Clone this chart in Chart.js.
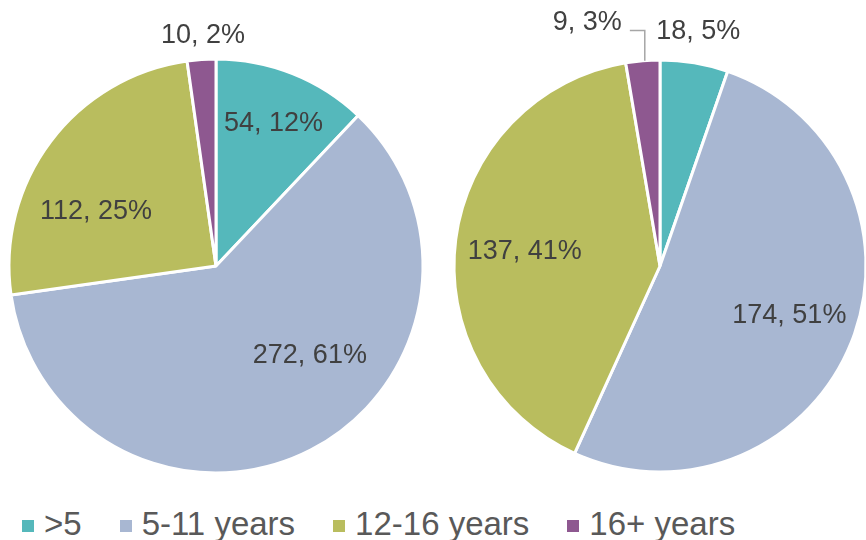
<!DOCTYPE html>
<html>
<head>
<meta charset="utf-8">
<script src="https://cdn.jsdelivr.net/npm/chart.js@4.4.1/dist/chart.umd.min.js"></script>
<style>
  html, body { margin: 0; padding: 0; background: #fff; }
  #wrap { position: relative; width: 866px; height: 540px; overflow: hidden; }
  #left { position: absolute; left: 0; top: 0; }
  #right { position: absolute; left: 440px; top: 0; }
  #legend { position: absolute; left: 22px; top: 508px; display: flex; gap: 38px;
    font: 33px "Liberation Sans", Arial, sans-serif; color: #595959; line-height: 32px; }
  #legend .it { display: flex; align-items: center; white-space: nowrap; }
  #legend .sw { width: 12px; height: 12px; margin-right: 10px; position: relative; top: 2px; }
</style>
</head>
<body>
<div id="wrap">
  <canvas id="left" width="432" height="490"></canvas>
  <canvas id="right" width="440" height="490"></canvas>
  <div id="legend"></div>
</div>
<script>
// age groups, shared by both pies
const groups = [">5", "5-11 years", "12-16 years", "16+ years"];
const colors = ["#55B8BB", "#A8B7D2", "#B9BD5E", "#8E5890"];

const leftCounts = [54, 272, 112, 10];
const rightCounts = [18, 174, 137, 9];

// label spots: [degrees clockwise from 12 o'clock, fraction of radius]
const leftLabelAt = [[21.7, 0.751], [132.8, 0.618], [295.2, 0.641], [356.8, 1.124]];
const rightLabelAt = [[9.2, 1.162], [110.2, 0.669], [277.2, 0.662], [343.5, 1.242]];

const FONT = '"Liberation Sans", Arial, sans-serif';

const sliceLabels = {
  id: "sliceLabels",
  afterDatasetsDraw(chart, args, opts) {
    const ctx = chart.ctx;
    const meta = chart.getDatasetMeta(0);
    const data = chart.data.datasets[0].data;
    const total = data.reduce((a, b) => a + b, 0);
    const size = 27;
    ctx.save();
    ctx.font = `${size}px ${FONT}`;
    ctx.fillStyle = "#404040";
    ctx.textAlign = "center";
    ctx.textBaseline = "alphabetic";
    meta.data.forEach((arc, i) => {
      const [deg, f] = opts.at[i];
      const a = deg * Math.PI / 180;
      const r = arc.outerRadius * f;
      const x = arc.x + r * Math.sin(a), y = arc.y - r * Math.cos(a);
      const txt = `${data[i]}, ${Math.round(data[i] / total * 100)}%`;
      ctx.fillText(txt, x, y + size * 0.36);
      if (opts.leader && opts.leader[i]) {
        // elbow line from the slice rim to the label
        const mid = (arc.startAngle + arc.endAngle) / 2;
        const px = arc.x + arc.outerRadius * Math.cos(mid);
        const py = arc.y + arc.outerRadius * Math.sin(mid);
        const w = ctx.measureText(txt).width;
        const ly = y + size * 0.36;
        ctx.strokeStyle = "#A6A6A6";
        ctx.lineWidth = 1.5;
        ctx.beginPath();
        ctx.moveTo(px + 2, py);
        ctx.lineTo(px + 2, ly);
        ctx.lineTo(x + w / 2 + 8, ly);
        ctx.stroke();
      }
    });
    ctx.restore();
  }
};

function pie(id, counts, labelAt, leader, radius) {
  return new Chart(document.getElementById(id), {
    type: "pie",
    data: {
      labels: groups,
      datasets: [{ data: counts, backgroundColor: colors, borderColor: "#ffffff",
        borderWidth: 3, radius }]
    },
    options: {
      responsive: false, animation: false, events: [],
      layout: { padding: { top: 56, bottom: 14, left: 0, right: 0 } },
      plugins: {
        legend: { display: false }, tooltip: { enabled: false },
        sliceLabels: { at: labelAt, leader }
      }
    },
    plugins: [sliceLabels]
  });
}

pie("left", leftCounts, leftLabelAt, null, 207);
pie("right", rightCounts, rightLabelAt, [false, false, false, true], 206);

document.getElementById("legend").innerHTML = groups.map((g, i) =>
  `<span class="it"><span class="sw" style="background:${colors[i]}"></span>${g.replace(">", "&gt;")}</span>`).join("");
</script>
</body>
</html>
